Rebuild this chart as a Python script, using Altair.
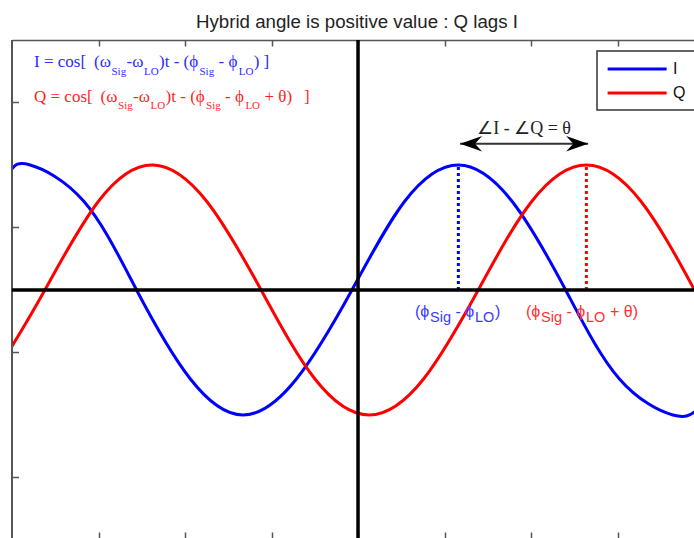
import altair as alt
import pandas as pd

# Sampled I and Q waveforms (x in tick units, amplitude normalised to 1)
I_X = [-4.00, -3.79, -3.17, -2.56, -1.94, -1.33, -0.71, -0.07, 0.54, 1.16, 1.78, 2.40, 3.02, 3.64, 3.90]
I_Y = [0.97, 1.00, 0.71, 0.00, -0.71, -1.00, -0.71, 0.00, 0.71, 1.00, 0.71, 0.00, -0.71, -1.00, -0.97]
Q_X = [-4.00, -3.62, -3.00, -2.37, -1.75, -1.12, -0.50, 0.13, 0.76, 1.39, 2.01, 2.64, 3.27, 3.89]
Q_Y = [-0.45, 0.00, 0.71, 1.00, 0.71, 0.00, -0.71, -1.00, -0.71, 0.00, 0.71, 1.00, 0.71, 0.00]

SERIES = ["I", "Q"]
COLORS = ["#0000ff", "#ff0000"]

X_TICKS = [-3, -2, -1, 0, 1, 2, 3]
Y_TICKS = [-1.5, -0.5, 0.5, 1.5]

# peaks of I and Q, marked by dotted drop lines
PEAK_X = [1.16, 2.64]
PEAK_Y = 1.0

# phase-difference arrow
ARROW_X = [1.18, 2.66]
ARROW_Y = 1.17
ARROW_LABEL = "∠I - ∠Q = θ"
ARROW_LABEL_X = 1.92
ARROW_LABEL_Y = 1.248

TITLE = "Hybrid angle is positive value : Q lags I"

# text pieces: (text, is_subscript)
FORMULA_I = [("I = cos[", 0), ("(ω", 0), ("Sig", 1), ("-ω", 0), ("LO", 1), (")t - (ϕ", 0),
             ("Sig", 1), ("- ϕ", 0), ("LO", 1), (")", 0), ("]", 0)]
FORMULA_Q = [("Q = cos[", 0), ("(ω", 0), ("Sig", 1), ("-ω", 0), ("LO", 1), (")t - (ϕ", 0),
             ("Sig", 1), ("- ϕ", 0), ("LO", 1), ("+ θ)", 0), ("]", 0)]
PHASE_I = [("(ϕ", 0), ("Sig", 1), ("- ϕ", 0), ("LO", 1), (")", 0)]
PHASE_Q = [("(ϕ", 0), ("Sig", 1), ("- ϕ", 0), ("LO", 1), ("+ θ)", 0)]

# ---- layout ----
W, H = 682, 498
x_scale = alt.Scale(domain=[-4, 3.884], nice=False, zero=False)
y_scale = alt.Scale(domain=[-1.984, 2.0], nice=False, zero=False)
color_scale = alt.Scale(domain=SERIES, range=COLORS)
FRAME = "#555"

edge = dict(labels=False, title=None, grid=False, domainColor=FRAME, domainWidth=1.5,
            tickColor=FRAME, tickWidth=1.5)
# x axes pulled across the plot so that their ticks point inwards
axis_top_edge = alt.Axis(orient="bottom", offset=-H, values=X_TICKS, tickSize=6, domain=True, **edge)
axis_bottom_edge = alt.Axis(orient="top", offset=-H, values=X_TICKS, tickSize=6, domain=False, **edge)
axis_left_edge = alt.Axis(orient="left", offset=0, ticks=False, domain=True, **edge)

waves = pd.concat([
    pd.DataFrame({"x": I_X, "y": I_Y, "series": "I"}),
    pd.DataFrame({"x": Q_X, "y": Q_Y, "series": "Q"}),
])

lines = alt.Chart(waves).mark_line(strokeWidth=3, interpolate="natural", clip=True).encode(
    x=alt.X("x:Q", scale=x_scale, axis=axis_top_edge),
    y=alt.Y("y:Q", scale=y_scale, axis=axis_left_edge),
    color=alt.Color("series:N", scale=color_scale, legend=alt.Legend(
        title=None, orient="none", legendX=585, legendY=11, padding=9,
        fillColor="white", strokeColor="#333", symbolType="M-1,0H7", symbolSize=217.6,
        symbolStrokeWidth=3, labelFont="Liberation Sans", labelFontSize=16,
        labelColor="#111", labelOffset=49, rowPadding=7)),
    order=alt.Order("x:Q"),
)

# left frame edge and its inward tick marks
left_edge = alt.Chart(pd.DataFrame({"v": Y_TICKS})).mark_rule(color=FRAME, strokeWidth=1.5).encode(
    x=alt.value(0))
y_ticks = alt.Chart(pd.DataFrame({"v": Y_TICKS})).mark_rule(color=FRAME, strokeWidth=1.5).encode(
    y=alt.Y("v:Q", scale=y_scale, axis=None),
    x=alt.value(0),
    x2=alt.value(7),
)

peaks = pd.DataFrame({"x": PEAK_X, "y0": [0, 0], "y1": [PEAK_Y, PEAK_Y], "series": SERIES})
drops = alt.Chart(peaks).mark_rule(strokeWidth=3, strokeDash=[3, 3]).encode(
    x=alt.X("x:Q", scale=x_scale, axis=axis_bottom_edge),
    y=alt.Y("y0:Q", scale=y_scale, axis=None),
    y2="y1:Q",
    color=alt.Color("series:N", scale=color_scale, legend=None),
)

h_axis = alt.Chart(peaks).mark_rule(color="black", strokeWidth=3).encode(
    y=alt.datum(0, scale=y_scale, axis=None))
v_axis = alt.Chart(peaks).mark_rule(color="black", strokeWidth=3).encode(
    x=alt.datum(0, scale=x_scale, axis=None))

arrow = pd.DataFrame({
    "x": ARROW_X, "y": [ARROW_Y, ARROW_Y],
    "head": ["M0,0L2,-0.7L1.35,0L2,0.7Z", "M0,0L-2,-0.7L-1.35,0L-2,0.7Z"],
})
shaft = alt.Chart(arrow).mark_rule(color="#333", strokeWidth=2).encode(
    x=alt.X("min(x):Q", scale=x_scale, axis=None),
    x2="max(x):Q",
    y=alt.Y("mean(y):Q", scale=y_scale, axis=None),
)
heads = alt.Chart(arrow).mark_point(filled=True, color="black", size=484, opacity=1, strokeWidth=0).encode(
    x=alt.X("x:Q", scale=x_scale, axis=None),
    y=alt.Y("y:Q", scale=y_scale, axis=None),
    shape=alt.Shape("head:N", scale=None),
)
arrow_text = alt.Chart(pd.DataFrame({"t": [ARROW_LABEL]})).mark_text(
    font="Liberation Serif", fontSize=18, color="#222", align="center", baseline="alphabetic"
).encode(
    x=alt.datum(ARROW_LABEL_X, scale=x_scale, axis=None),
    y=alt.datum(ARROW_LABEL_Y, scale=y_scale, axis=None),
    text="t:N",
)


def place(pieces, starts, base_main, base_sub, color, size_main, size_sub):
    rows = []
    for (txt, sub), px in zip(pieces, starts):
        rows.append({"t": txt, "px": px, "py": base_sub if sub else base_main,
                     "c": color, "s": size_sub if sub else size_main})
    return rows


formula_rows = (
    place(FORMULA_I, [22, 82, 99.5, 114.5, 132, 147, 187.5, 206.5, 226.8, 241.7, 251.6],
          27, 35, "#2b2bff", 17, 11)
    + place(FORMULA_Q, [22, 88.6, 106.1, 121.1, 138.6, 153.6, 194.1, 213.1, 233.4, 252.4, 292],
            62, 69, "#ff1f1f", 17, 11)
)
phase_rows = (
    place(PHASE_I, [403, 418, 443.5, 463, 483], 277, 282, "#3a3aff", 16, 14.5)
    + place(PHASE_Q, [514, 529, 554.4, 574, 598], 277, 282, "#ff3030", 16, 14.5)
)


def text_layer(rows, font):
    return alt.Chart(pd.DataFrame(rows)).mark_text(align="left", baseline="alphabetic", font=font).encode(
        x=alt.X("px:Q", scale=None, axis=None),
        y=alt.Y("py:Q", scale=None, axis=None),
        text="t:N",
        color=alt.Color("c:N", scale=None),
        size=alt.Size("s:Q", scale=None),
    )


formulas = text_layer(formula_rows, "Liberation Serif")
phases = text_layer(phase_rows, "Liberation Sans")

chart = alt.layer(
    lines, left_edge, y_ticks, drops, h_axis, v_axis, shaft, heads, arrow_text, formulas, phases
).resolve_axis(x="independent").properties(
    width=W, height=H,
    autosize=alt.AutoSizeParams(type="none"),
    padding={"left": 12, "top": 40, "right": 0, "bottom": 0},
    title=alt.TitleParams(TITLE, font="Liberation Sans", fontSize=18.7, fontWeight="normal",
                          color="#222", anchor="middle", frame="group", offset=12,
                          baseline="alphabetic", dx=4, dy=20),
    background="white",
).configure_view(stroke=None).configure_legend(strokeWidth=1.5, cornerRadius=0)

chart.save("out.html", embed_options={"renderer": "svg", "actions": False})
